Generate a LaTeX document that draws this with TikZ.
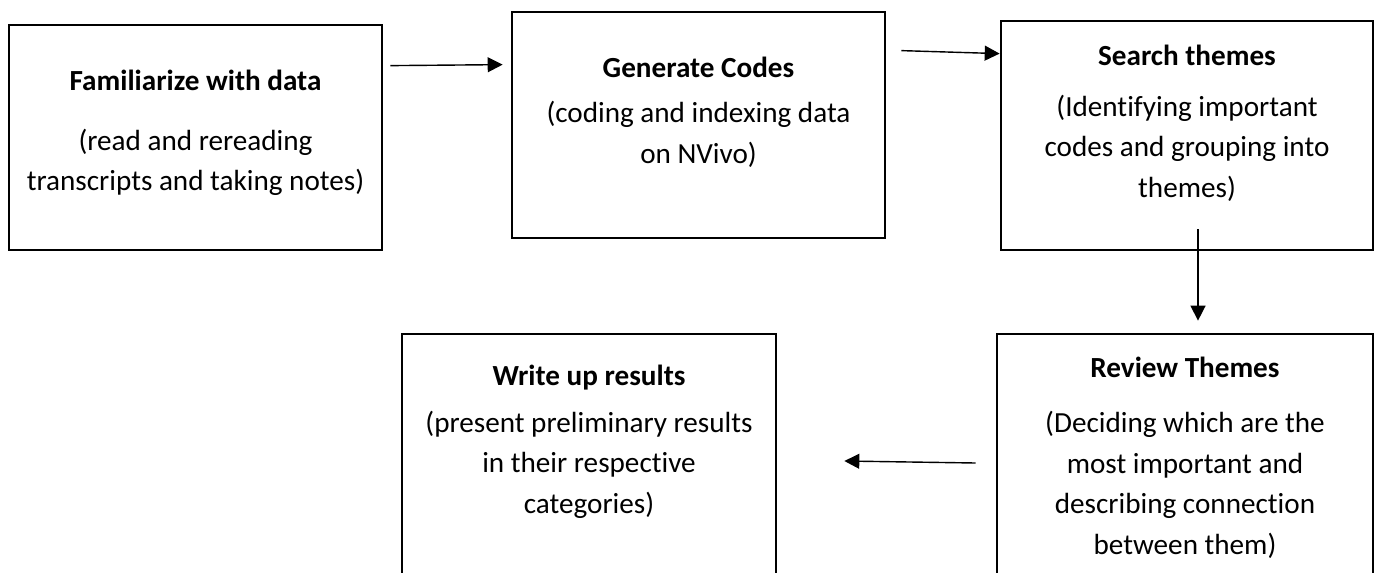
\documentclass[tikz,border=0pt]{standalone}
\usepackage{fontspec}
\setmainfont{Carlito}[Ligatures=NoCommon]
\usetikzlibrary{positioning, arrows.meta}

\begin{document}
\begin{tikzpicture}[
    x=0.02cm, y=-0.02cm,
    stage/.style={rectangle, draw=black, line width=1.6pt, minimum width=7.46cm, inner sep=0pt},
    caption/.style={anchor=north, align=center, inner sep=0pt, font=\fontsize{16.6}{23.2}\selectfont},
    line/.style={draw, line width=0.8pt, -{Triangle[length=8.5pt, width=8.5pt]}}
    ]
    \useasboundingbox (0,0) rectangle (1381,572);

    % Boxes
    \node (familiar) [stage, minimum height=4.5cm] at (195.5,137.5) {};
    \node (codes) [stage, minimum height=4.52cm] at (698.5,125) {};
    \node (search) [stage, minimum width=7.44cm, minimum height=4.58cm] at (1187,135.5) {};
    \node (review) [stage, minimum width=7.52cm, minimum height=4.92cm] at (1185,457) {};
    \node (write) [stage, minimum width=7.48cm, minimum height=4.92cm] at (589,457) {};

    % Texts
    \node (familiartext) [caption, below=0.92cm of familiar.north] {\textbf{Familiarize with data}\\[10.8pt] (read and rereading\\ transcripts and taking notes)};
    \node (codestext) [caption, below=0.92cm of codes.north] {\textbf{Generate Codes}\\[2.5pt] (coding and indexing data\\ on NVivo)};
    \node (searchtext) [caption, below=0.5cm of search.north] {\textbf{Search themes}\\[5.7pt] (Identifying important\\ codes and grouping into\\ themes)};
    \node (reviewtext) [caption, below=0.48cm of review.north] {\textbf{Review Themes}\\[8pt] (Deciding which are the\\ most important and\\ describing connection\\ between them)};
    \node (writetext) [caption, below=0.64cm of write.north] {\textbf{Write up results}\\[3.4pt] (present preliminary results\\ in their respective\\ categories)};

    % Arrows
    \draw [line] ([shift={(7,42)}]familiar.north east) -- ([shift={(-8,54)}]codes.north west);
    \draw [line] ([shift={(15,40)}]codes.north east) -- ([shift={(0,34)}]search.north west);
    \draw [line] ([shift={(11,-22)}]search.south) -- ([shift={(13,-12)}]review.north);
    \draw [line] ([shift={(-20,6)}]review.west) -- ([shift={(67,4)}]write.east);
\end{tikzpicture}
\end{document}
